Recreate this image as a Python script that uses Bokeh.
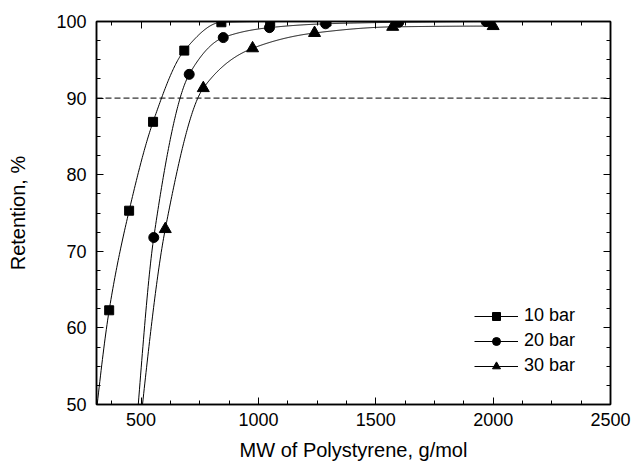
import numpy as np
from bokeh.plotting import figure
from bokeh.models import (Range1d, LinearAxis, FixedTicker, Span, Legend, LegendItem,
                          CustomJSTickFormatter)
from bokeh.embed import file_html
from bokeh.resources import INLINE

# ---- data ----
# measured points
mw_10 = [364, 449, 551, 684, 842, 1050, 1290, 1590, 1980]
ret_10 = [62.3, 75.3, 86.9, 96.2, 99.9, 100.0, 100.0, 100.0, 100.0]
mw_20 = [554, 705, 850, 1047, 1286, 1598, 1970]
ret_20 = [71.8, 93.1, 97.9, 99.2, 99.7, 99.9, 100.0]
mw_30 = [603, 765, 975, 1239, 1572, 2000]
ret_30 = [72.9, 91.3, 96.5, 98.5, 99.3, 99.4]
# where each fitted curve leaves the frame at 50 %
curve_start_mw = [313, 488, 506]
curve_start_ret = [50.0, 50.0, 50.0]
labels = ["10 bar", "20 bar", "30 bar"]
x_ticks = [500, 1000, 1500, 2000, 2500]
y_ticks = [50, 60, 70, 80, 90, 100]
ref_line = 90

FONT = "Liberation Sans"


def pchip(x, y, xs):
    x = np.asarray(x, float)
    y = np.asarray(y, float)
    n = len(x)
    h = np.diff(x)
    d = np.diff(y) / h
    m = np.zeros(n)
    for k in range(1, n - 1):
        if d[k - 1] * d[k] <= 0:
            m[k] = 0.0
        else:
            w1 = 2 * h[k] + h[k - 1]
            w2 = h[k] + 2 * h[k - 1]
            m[k] = (w1 + w2) / (w1 / d[k - 1] + w2 / d[k])

    def end(h0, h1, d0, d1):
        mm = ((2 * h0 + h1) * d0 - h0 * d1) / (h0 + h1)
        if np.sign(mm) != np.sign(d0):
            mm = 0.0
        elif np.sign(d0) != np.sign(d1) and abs(mm) > abs(3 * d0):
            mm = 3 * d0
        return mm

    m[0] = end(h[0], h[1], d[0], d[1])
    m[-1] = end(h[-1], h[-2], d[-1], d[-2])
    idx = np.clip(np.searchsorted(x, xs) - 1, 0, n - 2)
    t = (xs - x[idx]) / h[idx]
    h00 = 2 * t**3 - 3 * t**2 + 1
    h10 = t**3 - 2 * t**2 + t
    h01 = -2 * t**3 + 3 * t**2
    h11 = t**3 - t**2
    return h00 * y[idx] + h10 * h[idx] * m[idx] + h01 * y[idx + 1] + h11 * h[idx] * m[idx + 1]


p = figure(width=633, height=463, output_backend="svg", toolbar_location=None,
           x_range=Range1d(310, 2500), y_range=Range1d(50, 100),
           min_border_left=96, min_border_right=23, min_border_top=21, min_border_bottom=59)
p.grid.visible = False
p.background_fill_color = "white"
p.border_fill_color = "white"
p.outline_line_color = "black"
p.outline_line_width = 1.5

x_minor = [v for v in np.arange(250, 2501, 125) if v % 500 != 0]
y_minor = [v for v in np.arange(50, 100.1, 2.5) if v % 10 != 0]


def style_axis(ax, show_labels=True):
    ax.axis_line_color = "black"
    ax.axis_line_width = 1.5
    ax.major_tick_in = 7
    ax.major_tick_out = 0
    ax.minor_tick_in = 4
    ax.minor_tick_out = 0
    ax.major_tick_line_color = "black"
    ax.minor_tick_line_color = "black"
    ax.major_label_text_font = FONT
    ax.major_label_text_font_size = "18px"
    ax.major_label_text_color = "black"
    ax.axis_label_text_font = FONT
    ax.axis_label_text_font_size = "20px"
    ax.axis_label_text_font_style = "normal"
    ax.axis_label_text_color = "black"
    if not show_labels:
        ax.formatter = CustomJSTickFormatter(code="return ''")


xt = FixedTicker(ticks=x_ticks, minor_ticks=x_minor)
yt = FixedTicker(ticks=y_ticks, minor_ticks=y_minor)

p.xaxis.ticker = xt
p.yaxis.ticker = yt
p.xaxis.axis_label = "MW of Polystyrene, g/mol"
p.yaxis.axis_label = "Retention, %"
style_axis(p.xaxis[0])
style_axis(p.yaxis[0])
p.xaxis.major_label_standoff = 8
p.yaxis.major_label_standoff = 10
p.xaxis.axis_label_standoff = 10
p.yaxis.axis_label_standoff = 24

top = LinearAxis(ticker=FixedTicker(ticks=x_ticks, minor_ticks=x_minor))
style_axis(top, False)
top.major_label_text_font_size = "1px"
right = LinearAxis(ticker=FixedTicker(ticks=y_ticks, minor_ticks=y_minor))
style_axis(right, False)
right.major_label_text_font_size = "1px"
p.add_layout(top, "above")
p.add_layout(right, "right")

p.add_layout(Span(location=ref_line, dimension="width", line_color="black",
                  line_width=1, line_dash="6 3"))

series = [(mw_10, ret_10, "square", 9), (mw_20, ret_20, "circle", 10), (mw_30, ret_30, "triangle", 12)]
items = []
for i, (mx, ry, marker, size) in enumerate(series):
    cx = [curve_start_mw[i]] + list(mx)
    cy = [curve_start_ret[i]] + list(ry)
    xs = np.linspace(cx[0], cx[-1], 600)
    ys = pchip(cx, cy, xs)
    ln = p.line(xs, ys, line_color="black", line_width=1)
    sc = p.scatter(mx, ry, marker=marker, size=size, fill_color="black", line_color="black")
    items.append(LegendItem(label=labels[i], renderers=[ln, sc]))

legend = Legend(items=items, location=(378, 28))
legend.background_fill_alpha = 0
legend.border_line_color = None
legend.padding = 0
legend.margin = 0
legend.spacing = 4
legend.glyph_width = 44
legend.glyph_height = 20
legend.label_height = 20
legend.label_standoff = 6
legend.label_text_font = FONT
legend.label_text_font_size = "18px"
legend.label_text_color = "black"
p.add_layout(legend, "center")

open("out.html", "w").write(file_html(p, INLINE))
